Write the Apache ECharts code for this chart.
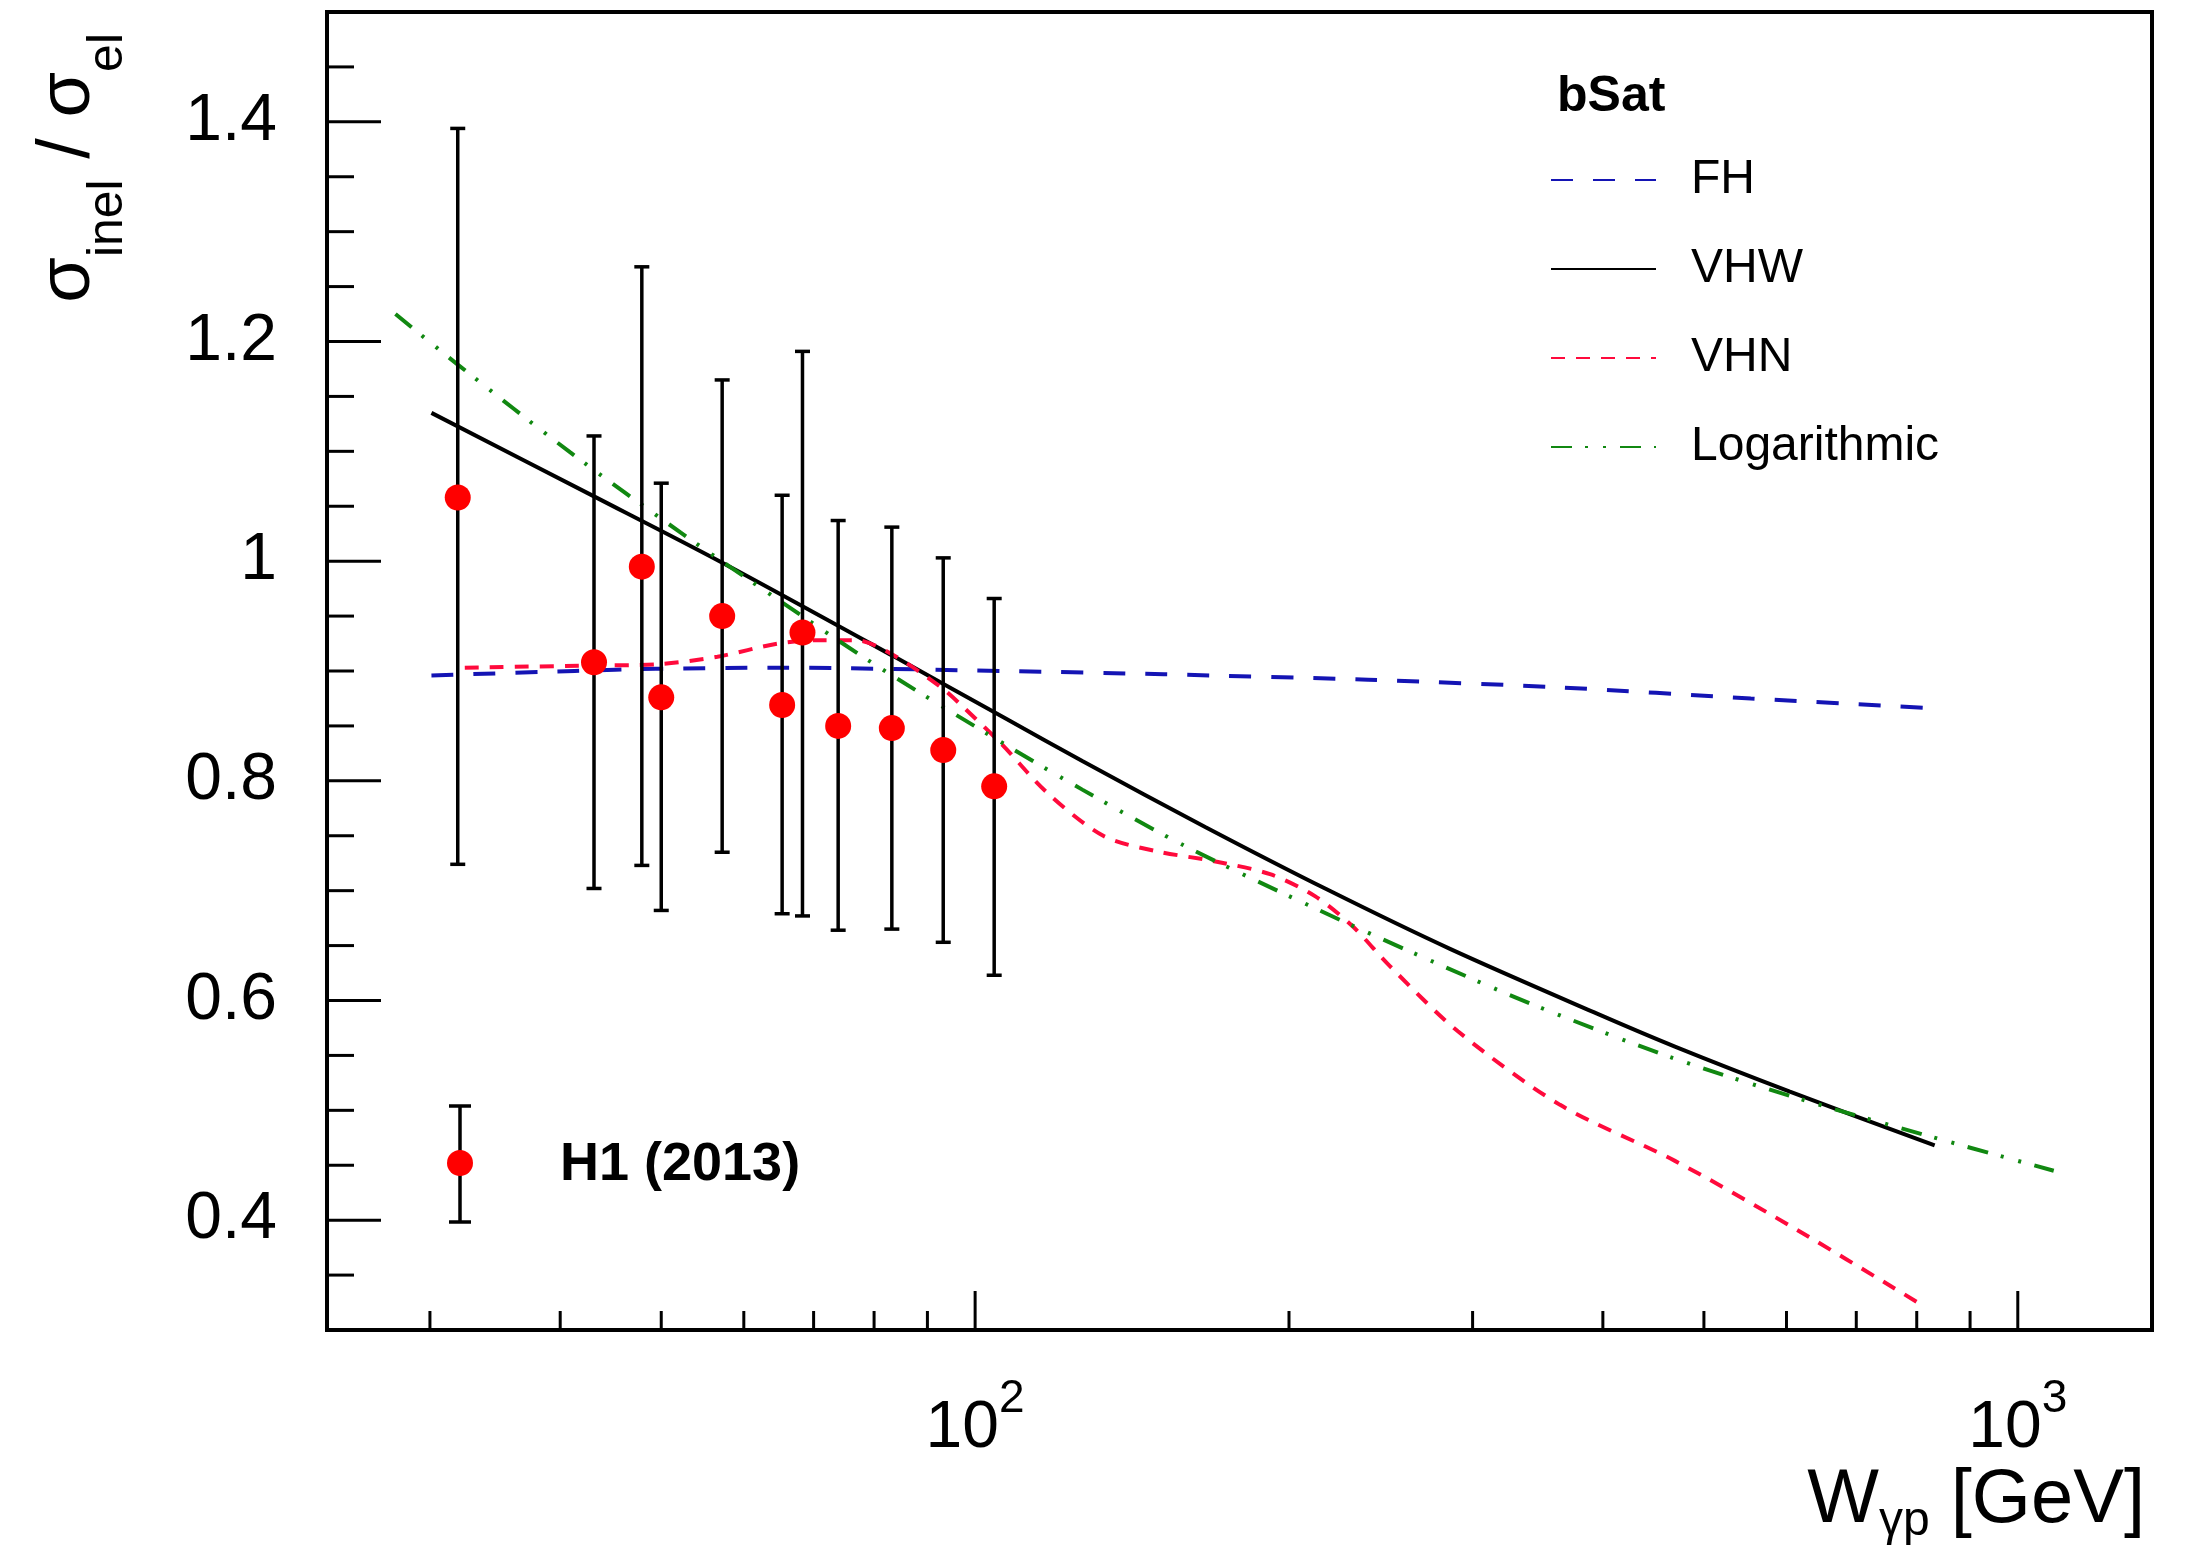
<!DOCTYPE html>
<html>
<head>
<meta charset="utf-8">
<script src="https://cdn.jsdelivr.net/npm/echarts@6/dist/echarts.min.js"></script>
<style>
html,body{margin:0;padding:0;background:#fff;}
#chart{width:2201px;height:1557px;}
</style>
</head>
<body>
<div id="chart"></div>
<script>
const FONT = '"Liberation Sans", Arial, Helvetica, sans-serif';

// ---- axis ranges and ticks ----
const X_MIN = 23.9, X_MAX = 1345;
const Y_MIN = 0.3, Y_MAX = 1.5;
const xMajorTicks = [100, 1000];
const xTickExps = ['2', '3'];
const xMinorTicks = [30, 40, 50, 60, 70, 80, 90, 200, 300, 400, 500, 600, 700, 800, 900];
const yMajorTicks = [0.4, 0.6, 0.8, 1.0, 1.2, 1.4];
const yTickLabels = ['0.4', '0.6', '0.8', '1', '1.2', '1.4'];
const yMinorTicks = [0.35, 0.45, 0.5, 0.55, 0.65, 0.7, 0.75, 0.85, 0.9, 0.95, 1.05, 1.1, 1.15, 1.25, 1.3, 1.35, 1.45];

// ---- H1 (2013) data ----
const h1W  = [31.9, 43.1, 47.9, 50.0, 57.2, 65.3, 68.3, 73.9, 83.2, 93.2, 104.3];
const h1R  = [1.058, 0.908, 0.995, 0.876, 0.950, 0.869, 0.935, 0.850, 0.848, 0.828, 0.795];
const h1Lo = [0.724, 0.702, 0.723, 0.682, 0.735, 0.679, 0.677, 0.664, 0.665, 0.653, 0.623];
const h1Hi = [1.394, 1.114, 1.268, 1.071, 1.165, 1.060, 1.191, 1.037, 1.031, 1.003, 0.966];

// ---- bSat model curves ----
const fhW = [30.1, 41.3, 49.4, 64.7, 106.4, 151.8, 238.2, 364.7, 554.6, 828.7];
const fhR = [0.896, 0.900, 0.902, 0.903, 0.900, 0.897, 0.892, 0.885, 0.875, 0.866];

const vhwW = [30.1, 43.1, 57.1, 83.3, 107.3, 126.7, 166.2, 217.6, 285.4, 394.9, 469.0, 604.5, 832.3];
const vhwR = [1.135, 1.059, 0.999, 0.914, 0.856, 0.818, 0.758, 0.701, 0.647, 0.588, 0.558, 0.517, 0.468];

const vhnW = [32.4, 43.1, 49.4, 56.6, 64.7, 70.9, 76.9, 83.3, 92.8, 96.7, 105.9, 117.0, 132.7, 149.1, 169.1, 191.8, 211.8, 229.9, 249.5, 290.4, 363.9, 469.0, 604.5, 802.0];
const vhnR = [0.903, 0.905, 0.906, 0.913, 0.925, 0.928, 0.928, 0.915, 0.885, 0.870, 0.834, 0.790, 0.750, 0.736, 0.727, 0.715, 0.695, 0.668, 0.632, 0.572, 0.505, 0.454, 0.395, 0.325];

const logW = [27.8, 31.9, 40.9, 52.2, 64.7, 80.4, 107.3, 126.7, 158.7, 211.8, 260.7, 341.3, 469.0, 630.4, 847.2, 1082.6];
const logR = [1.225, 1.179, 1.099, 1.026, 0.965, 0.905, 0.832, 0.792, 0.741, 0.684, 0.645, 0.597, 0.547, 0.508, 0.473, 0.445];

const zip = (a, b) => a.map((v, i) => [v, b[i]]);

function tickSeries(points, dx, dy) {
  return {
    type: 'custom', silent: true, z: 6, clip: false,
    data: points,
    renderItem: (params, api) => {
      const p = api.coord([api.value(0), api.value(1)]);
      return { type: 'line', shape: { x1: p[0], y1: p[1], x2: p[0] + dx, y2: p[1] + dy },
               style: { stroke: '#000', lineWidth: 3 } };
    }
  };
}

function fmtX(v) {
  const i = xMajorTicks.findIndex(t => Math.abs(t - v) / t < 1e-6);
  return i < 0 ? '' : '{b|10}{sup|' + xTickExps[i] + '}';
}
function fmtY(v) {
  const i = yMajorTicks.findIndex(t => Math.abs(t - v) < 1e-6);
  return i < 0 ? '' : yTickLabels[i];
}

function curve(name, w, r, color, dash) {
  return {
    name: name, type: 'line', data: zip(w, r), symbol: 'none', smooth: 0.3,
    z: 3, silent: true,
    lineStyle: { color: color, width: 4, type: dash },
    itemStyle: { color: color }
  };
}

const chart = echarts.init(document.getElementById('chart'), null, { renderer: 'canvas' });
const option = {
  animation: false,
  backgroundColor: '#ffffff',
  textStyle: { fontFamily: FONT },
  title: {
    text: 'bSat', left: 1557, top: 72, padding: 0,
    textStyle: { fontSize: 50, fontWeight: 'bold', fontFamily: FONT, color: '#000' }
  },
  legend: {
    data: ['FH', 'VHW', 'VHN', 'Logarithmic'],
    orient: 'vertical', left: 1550, top: 155, padding: 0,
    itemWidth: 105, itemHeight: 50, itemGap: 39,
    selectedMode: false,
    itemStyle: { opacity: 0 },
    textStyle: { fontSize: 48, fontFamily: FONT, color: '#000', lineHeight: 50, padding: [0, 0, 0, 30] }
  },
  grid: {
    left: 327, top: 12, width: 1825, height: 1318,
    outerBoundsMode: 'none', containLabel: false,
    show: true, borderWidth: 4, borderColor: '#000', backgroundColor: 'transparent'
  },
  xAxis: {
    type: 'log', logBase: 10, min: X_MIN, max: X_MAX,
    splitLine: { show: false }, axisLine: { show: false }, axisTick: { show: false },
    axisLabel: {
      margin: 46, formatter: fmtX, color: '#000',
      rich: {
        b: { fontSize: 66, fontFamily: FONT, color: '#000', verticalAlign: 'bottom', padding: [20, 0, 0, 0] },
        sup: { fontSize: 46, fontFamily: FONT, color: '#000', verticalAlign: 'top' }
      }
    },
    name: '{m|W}{s|γp}{m| [GeV]}',
    nameLocation: 'end', nameGap: -7,
    nameTextStyle: {
      align: 'right', verticalAlign: 'top', padding: [133, 0, 0, 0],
      rich: {
        m: { fontSize: 76, fontFamily: FONT, color: '#000', verticalAlign: 'bottom', padding: [0, 0, 7, 0] },
        s: { fontSize: 48, fontFamily: FONT, color: '#000', verticalAlign: 'bottom' }
      }
    }
  },
  yAxis: {
    type: 'value', min: Y_MIN, max: Y_MAX, interval: 0.1,
    splitLine: { show: false }, axisLine: { show: false }, axisTick: { show: false },
    axisLabel: { margin: 50, formatter: fmtY, fontSize: 66, fontFamily: FONT, color: '#000', padding: [10, 0, 0, 0] },
    name: '{m|σ}{s|inel}{m| / σ}{s|el}',
    nameLocation: 'end', nameRotate: 90, nameGap: -21,
    nameTextStyle: {
      align: 'right', verticalAlign: 'bottom', padding: [0, 0, 194, 0],
      rich: {
        m: { fontSize: 74, fontFamily: FONT, color: '#000', verticalAlign: 'bottom', padding: [0, 0, 27, 0] },
        s: { fontSize: 50, fontFamily: FONT, color: '#000', verticalAlign: 'bottom' }
      }
    }
  },
  graphic: [
    { type: 'line', shape: { x1: 460, y1: 1106, x2: 460, y2: 1222 }, style: { stroke: '#000', lineWidth: 3.5 } },
    { type: 'line', shape: { x1: 449, y1: 1106, x2: 471, y2: 1106 }, style: { stroke: '#000', lineWidth: 3.5 } },
    { type: 'line', shape: { x1: 449, y1: 1222, x2: 471, y2: 1222 }, style: { stroke: '#000', lineWidth: 3.5 } },
    { type: 'circle', shape: { cx: 460, cy: 1163, r: 13 }, style: { fill: '#ff0000' } },
    { type: 'text', x: 560, y: 1165, style: { text: 'H1 (2013)', fontSize: 54, fontWeight: 'bold', fontFamily: FONT, fill: '#000', align: 'left', verticalAlign: 'middle' } }
  ],
  series: [
    curve('FH', fhW, fhR, '#1414b4', [22, 20]),
    curve('VHW', vhwW, vhwR, '#000000', 'solid'),
    curve('VHN', vhnW, vhnR, '#ff0a3c', [14, 11]),
    curve('Logarithmic', logW, logR, '#118811', [21, 13, 3, 15, 3, 14]),
    {
      name: 'H1 errors', type: 'custom', silent: true, z: 4, clip: false,
      data: h1W.map((w, i) => [w, h1R[i], h1Lo[i], h1Hi[i]]),
      renderItem: (params, api) => {
        const x = api.value(0);
        const lo = api.coord([x, api.value(2)]);
        const hi = api.coord([x, api.value(3)]);
        const half = 7.5;
        const st = { stroke: '#000', lineWidth: 3.5 };
        return { type: 'group', children: [
          { type: 'line', shape: { x1: lo[0], y1: lo[1], x2: hi[0], y2: hi[1] }, style: st },
          { type: 'line', shape: { x1: lo[0] - half, y1: lo[1], x2: lo[0] + half, y2: lo[1] }, style: st },
          { type: 'line', shape: { x1: hi[0] - half, y1: hi[1], x2: hi[0] + half, y2: hi[1] }, style: st }
        ] };
      }
    },
    {
      name: 'H1 (2013)', type: 'scatter', silent: true, z: 5,
      data: zip(h1W, h1R), symbol: 'circle', symbolSize: 26,
      itemStyle: { color: '#ff0000', opacity: 1 }
    },
    tickSeries(xMajorTicks.map(v => [v, Y_MIN]), 0, -39),
    tickSeries(xMinorTicks.map(v => [v, Y_MIN]), 0, -19),
    tickSeries(yMajorTicks.map(v => [X_MIN, v]), 54, 0),
    tickSeries(yMinorTicks.map(v => [X_MIN, v]), 27, 0)
  ]
};
chart.setOption(option);
</script>
</body>
</html>
